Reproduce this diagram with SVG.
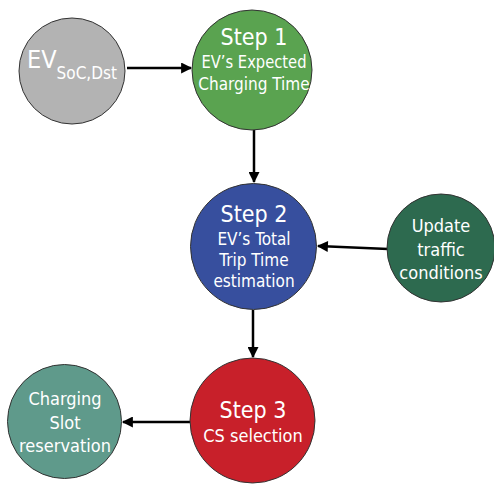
<svg xmlns="http://www.w3.org/2000/svg" width="494" height="487" viewBox="0 0 494 487">
<style>
.n{stroke:#333;stroke-width:1}
text{font-family:"DejaVu Sans Condensed","DejaVu Sans",sans-serif;font-stretch:condensed;fill:#fff;text-anchor:middle}
.big{font-size:23px}
.sm{font-size:17px}
.md{font-size:18px}
.c{stroke:#000;stroke-width:2.5;fill:none;marker-end:url(#ah)}
</style>
<defs>
<marker id="ah" viewBox="0 0 10 10" refX="9" refY="5" markerWidth="5" markerHeight="4.4" markerUnits="strokeWidth" orient="auto">
<path d="M0,0 L10,5 L0,10 Z" fill="#000"/>
</marker>
</defs>
<rect width="494" height="487" fill="#fff"/>
<g id="connectors">
<line class="c" x1="127" y1="68" x2="191" y2="68"/>
<line class="c" x1="254" y1="130" x2="254" y2="182"/>
<line class="c" x1="388" y1="249" x2="318" y2="246"/>
<line class="c" x1="253" y1="310" x2="253" y2="357"/>
<line class="c" x1="190" y1="422" x2="123" y2="422"/>
</g>
<g id="ev">
<circle class="n" cx="72" cy="71" r="53" fill="#b3b3b3"/>
<text x="27" y="68" font-size="25" style="text-anchor:start">EV<tspan font-size="17" dy="11">SoC,Dst</tspan></text>
</g>
<g id="step1">
<circle class="n" cx="252" cy="70" r="60" fill="#5aa350"/>
<text class="big" x="254" y="45">Step 1</text>
<text class="sm" x="254" y="68" textLength="105" lengthAdjust="spacingAndGlyphs">EV’s Expected</text>
<text class="sm" x="254" y="90">Charging Time</text>
</g>
<g id="step2">
<circle class="n" cx="253.5" cy="246.5" r="63" fill="#374f9e"/>
<text class="big" x="254" y="222">Step 2</text>
<text class="sm" x="254" y="245">EV’s Total</text>
<text class="sm" x="254" y="266">Trip Time</text>
<text class="sm" x="254" y="287">estimation</text>
</g>
<g id="update">
<circle class="n" cx="441" cy="248" r="54" fill="#2d6a4f"/>
<text class="md" x="441" y="232">Update</text>
<text class="md" x="441" y="256">traffic</text>
<text class="md" x="441" y="279">conditions</text>
</g>
<g id="step3">
<circle class="n" cx="252.5" cy="420.5" r="62.5" fill="#c8202a"/>
<text class="big" x="253" y="418">Step 3</text>
<text class="md" x="253" y="442">CS selection</text>
</g>
<g id="reservation">
<circle class="n" cx="64.5" cy="421.5" r="57" fill="#5f9a8b"/>
<text class="md" x="65" y="405">Charging</text>
<text class="md" x="65" y="429">Slot</text>
<text class="md" x="65" y="452">reservation</text>
</g>
</svg>
